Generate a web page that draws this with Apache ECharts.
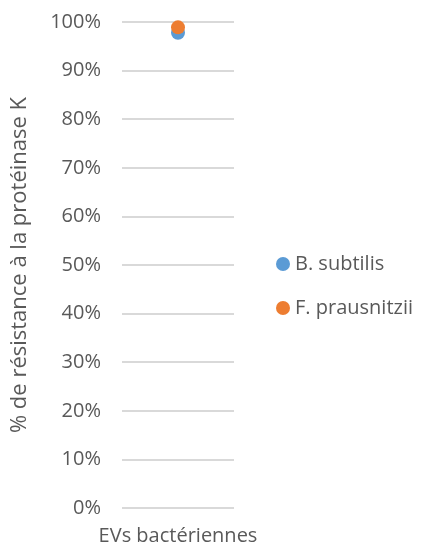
<!DOCTYPE html>
<html>
<head>
<meta charset="utf-8">
<script src="https://cdn.jsdelivr.net/npm/echarts@6/dist/echarts.min.js"></script>
<style>
  html, body { margin: 0; padding: 0; background: #fff; }
  #chart { width: 421px; height: 547px; }
</style>
</head>
<body>
<div id="chart"></div>
<script>
// Categories and values
const categories = ['EVs bactériennes'];
const seriesNames = ['B. subtilis', 'F. prausnitzii'];
const subtilisValues = [97.8];
const prausnitziiValues = [98.9];
const colors = ['#5B9BD5', '#ED7D31'];

const font = '"Open Sans", "Noto Sans", sans-serif';
const chart = echarts.init(document.getElementById('chart'));
chart.setOption({
  animation: false,
  textStyle: { fontFamily: font },
  grid: { left: 122, right: 187, top: 22, bottom: 39 },
  legend: {
    orient: 'vertical',
    left: 271,
    top: 249,
    itemGap: 24,
    itemWidth: 14,
    itemHeight: 14,
    icon: 'circle',
    textStyle: { fontSize: 20, color: '#595959', fontFamily: font },
    data: seriesNames
  },
  xAxis: {
    type: 'category',
    data: categories,
    boundaryGap: true,
    axisLine: { show: false },
    axisTick: { show: false },
    axisLabel: { fontSize: 20, color: '#595959', margin: 18 }
  },
  yAxis: {
    type: 'value',
    min: 0,
    max: 100,
    interval: 10,
    name: '% de résistance à la protéinase K',
    nameLocation: 'middle',
    nameGap: 91,
    nameTextStyle: { fontSize: 22, color: '#595959' },
    axisLine: { show: false },
    axisTick: { show: false },
    axisLabel: { fontSize: 20, color: '#595959', margin: 21, formatter: '{value}%' },
    splitLine: { lineStyle: { color: '#D9D9D9', width: 2 } }
  },
  series: [
    {
      name: seriesNames[0],
      type: 'scatter',
      data: subtilisValues,
      symbolSize: 14,
      itemStyle: { color: colors[0], opacity: 1 }
    },
    {
      name: seriesNames[1],
      type: 'scatter',
      data: prausnitziiValues,
      symbolSize: 14,
      itemStyle: { color: colors[1], opacity: 1 }
    }
  ]
});
</script>
</body>
</html>
